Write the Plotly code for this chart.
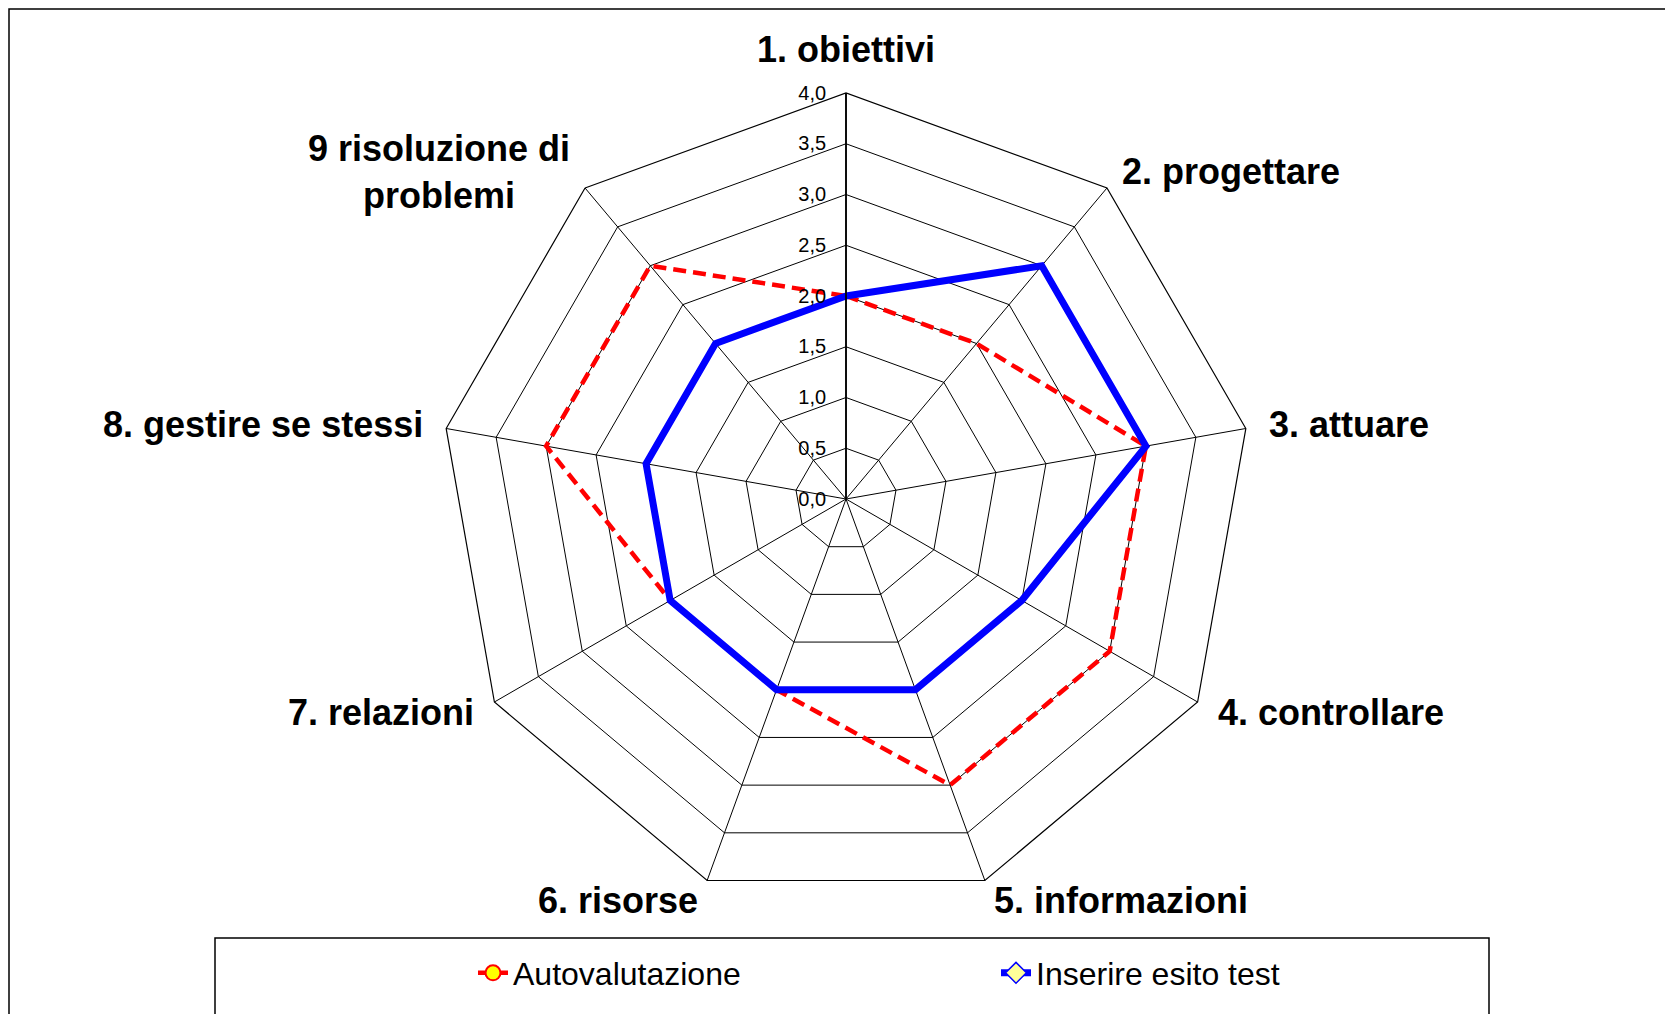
import math
import plotly.graph_objects as go

categories = ["1. obiettivi", "2. progettare", "3. attuare", "4. controllare",
              "5. informazioni", "6. risorse", "7. relazioni",
              "8. gestire se stessi", "9 risoluzione di<br>problemi"]
autovalutazione = [2, 2, 3, 3, 3, 2, 2, 3, 3]
esito_test = [2, 3, 3, 2, 2, 2, 2, 2, 2]
radial_ticks = [0, 0.5, 1, 1.5, 2, 2.5, 3, 3.5, 4]

W, H = 1673, 1014
OFF = 8  # page body margin
cx, cy, R = 846 - OFF, 499 - OFF, 406
FONT = "Arial, Liberation Sans, sans-serif"

def closed(v):
    return v + v[:1]

red_line = dict(color="#FF0000", width=4.5, dash="13px,7px")
blue_line = dict(color="#0000FF", width=7)

fig = go.Figure()
fig.add_trace(go.Scatterpolar(
    r=closed(autovalutazione), theta=closed(categories),
    name="Autovalutazione", mode="lines", line=red_line, showlegend=False,
))
fig.add_trace(go.Scatterpolar(
    r=closed(esito_test), theta=closed(categories),
    name="Inserire esito test", mode="lines", line=blue_line, showlegend=False,
))
# legend entries (no data drawn)
fig.add_trace(go.Scatterpolar(
    r=[None], theta=[None], name="Autovalutazione", mode="lines+markers",
    line=red_line,
    marker=dict(size=15, color="#FFFF00", symbol="circle",
                line=dict(color="#FF0000", width=2)),
))
fig.add_trace(go.Scatterpolar(
    r=[None], theta=[None], name="Inserire esito test", mode="lines+markers",
    line=blue_line,
    marker=dict(size=16, color="#FFFF99", symbol="diamond",
                line=dict(color="#0000FF", width=1.5)),
))

# category labels placed just outside each spoke (Excel style)
n = len(categories)
gap = 21
annotations = []
for i, lab in enumerate(categories):
    ang = math.radians(90 - 360 * i / n)
    c, s = math.cos(ang), math.sin(ang)
    px = cx + (R + gap) * c
    py = cy - (R + gap) * s
    xa = "center" if abs(c) < 0.02 else ("left" if c > 0 else "right")
    ya = "bottom" if s > 0.98 else ("top" if s < -0.98 else "middle")
    annotations.append(dict(
        text=lab, x=px / W, y=1 - py / H, xref="paper", yref="paper",
        xanchor=xa, yanchor=ya, showarrow=False, align="center",
        font=dict(size=36, family=FONT, color="black", weight="bold"),
    ))

fig.update_layout(
    width=W, height=H,
    margin=dict(l=0, r=0, t=0, b=0, autoexpand=False),
    paper_bgcolor="white", plot_bgcolor="white",
    separators=",.",
    font=dict(family=FONT, color="black"),
    polar=dict(
        domain=dict(x=[(cx - R) / W, (cx + R) / W],
                    y=[(H - cy - R) / H, (H - cy + R) / H]),
        bgcolor="white",
        gridshape="linear",
        angularaxis=dict(
            direction="clockwise", rotation=90,
            categoryorder="array", categoryarray=categories,
            showline=True, linecolor="black", linewidth=1.2,
            gridcolor="black", gridwidth=1,
            showticklabels=False, ticks="",
        ),
        radialaxis=dict(
            range=[0, 4], tickvals=radial_ticks, tickformat=".1f",
            angle=90, side="counterclockwise", tickangle=90,
            showline=True, linecolor="black", linewidth=1.8,
            gridcolor="black", gridwidth=1,
            ticks="outside", ticklen=12, tickcolor="rgba(0,0,0,0)",
            tickfont=dict(size=20, color="black", family=FONT),
        ),
    ),
    legend=dict(
        orientation="h", x=(473 - OFF) / W, xanchor="left",
        y=1 - (973 - OFF) / H, yanchor="middle",
        font=dict(size=32, color="black", family=FONT),
        entrywidth=478, entrywidthmode="pixels",
        bgcolor="rgba(0,0,0,0)", borderwidth=0,
    ),
    annotations=annotations,
    shapes=[
        dict(type="rect", xref="paper", yref="paper",
             x0=(9 - OFF) / W, x1=(1670 - OFF) / W, y0=-0.02, y1=1 - 1 / H,
             line=dict(color="black", width=1.5), fillcolor="rgba(0,0,0,0)"),
        dict(type="rect", xref="paper", yref="paper",
             x0=(215 - OFF) / W, x1=(1489 - OFF) / W, y0=-0.02,
             y1=1 - (938 - OFF) / H,
             line=dict(color="black", width=1.5), fillcolor="rgba(0,0,0,0)"),
    ],
)

fig.write_html("out.html")
